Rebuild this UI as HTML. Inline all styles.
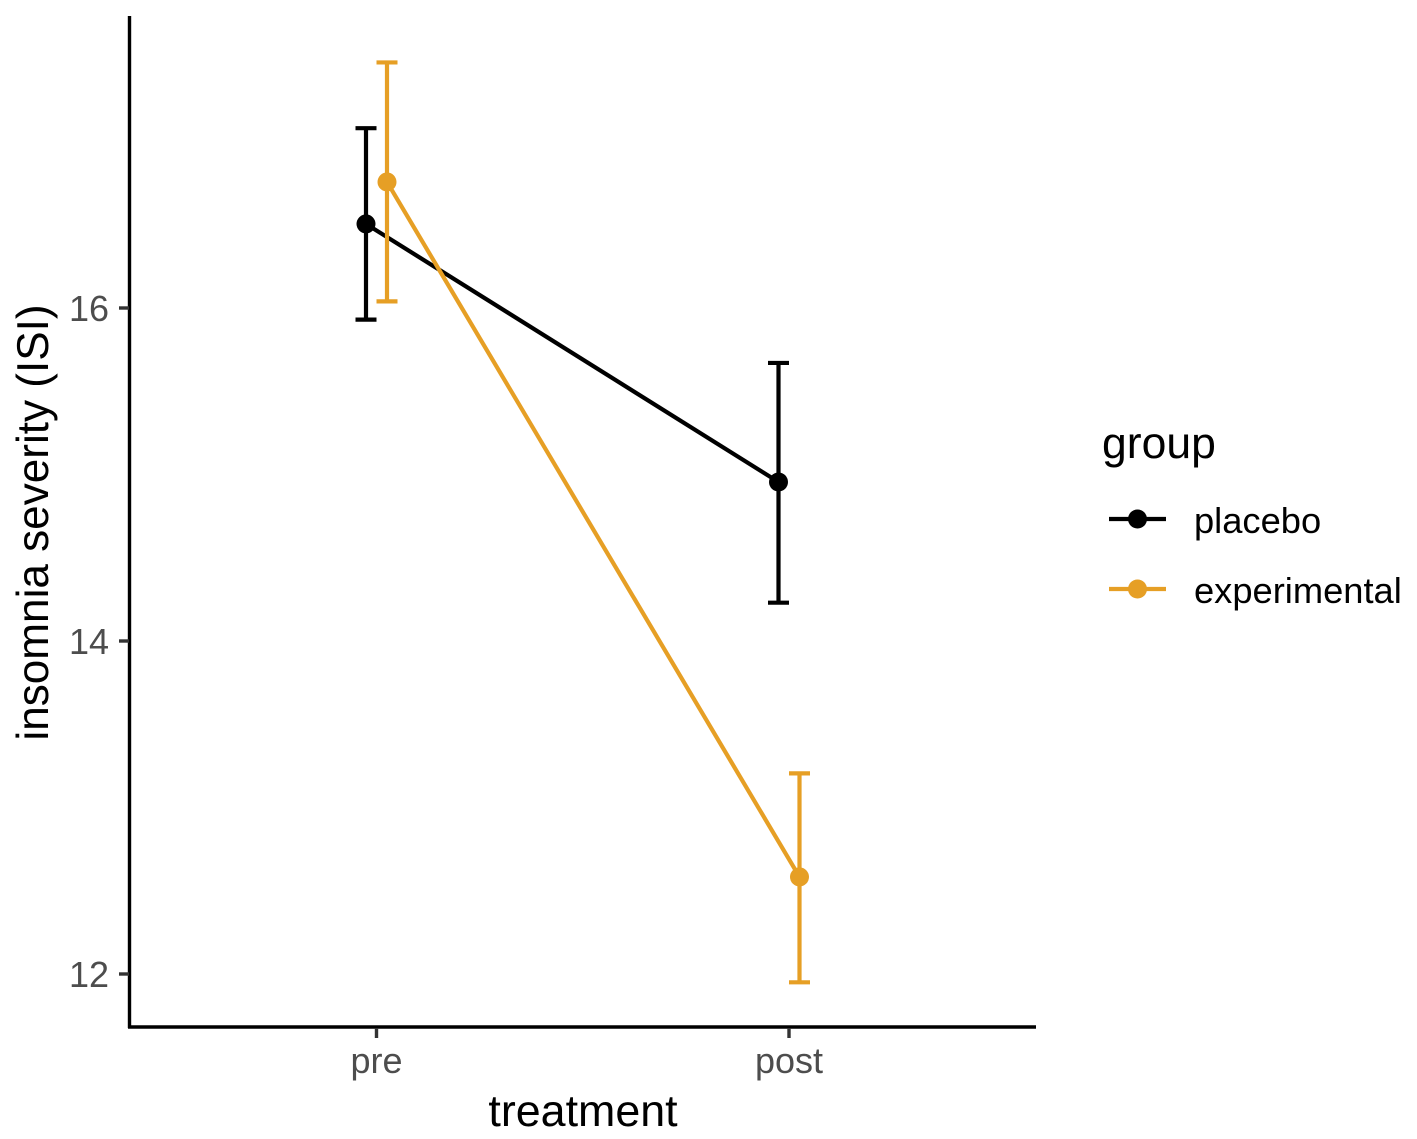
<!DOCTYPE html>
<html lang="en">
<head>
<meta charset="utf-8">
<title>Insomnia severity by treatment and group</title>
<style>
html,body{margin:0;padding:0;background:#fff;width:1417px;height:1139px;overflow:hidden}
svg{display:block;font-family:"Liberation Sans",Arial,sans-serif}
</style>
</head>
<body>
<svg id="chart" xmlns="http://www.w3.org/2000/svg" width="1417" height="1139" viewBox="0 0 1417 1139">
<rect width="1417" height="1139" fill="#fff"/>
<g id="marks"></g>
<g id="axes">
<line x1="129.5" y1="16" x2="129.5" y2="1028" stroke="#000" stroke-width="3.4"/>
<line x1="128" y1="1027" x2="1036" y2="1027" stroke="#000" stroke-width="3.4"/>
</g>
<text x="583" y="1126" font-size="44.8" text-anchor="middle" fill="#000">treatment</text>
<text transform="translate(48,522.5) rotate(-90)" font-size="44.1" text-anchor="middle" fill="#000">insomnia severity (ISI)</text>
<g>
<text x="1102" y="458" font-size="44.5" fill="#000">group</text>
<g>
<line x1="1109" y1="519" x2="1166" y2="519" stroke="#000" stroke-width="4.2"/>
<circle cx="1137.5" cy="519" r="9.5" fill="#000"/>
<text x="1194" y="533" font-size="36.3" fill="#000">placebo</text>
</g>
<g>
<line x1="1109" y1="589" x2="1166" y2="589" stroke="#E69F25" stroke-width="4.2"/>
<circle cx="1137.5" cy="589" r="9.5" fill="#E69F25"/>
<text x="1194" y="603" font-size="36.3" fill="#000">experimental</text>
</g>
</g>
</svg>
<script>
const categories = ['pre', 'post'];
const yTickLabels = [12, 14, 16];
const placeboMean = [16.505, 14.955];
const placeboUpper = [17.08, 15.67];
const placeboLower = [15.93, 14.23];
const experimentalMean = [16.757, 12.583];
const experimentalUpper = [17.475, 13.205];
const experimentalLower = [16.04, 11.95];

const NS = 'http://www.w3.org/2000/svg';
const marks = document.getElementById('marks');
const axes = document.getElementById('axes');
const BLACK = '#000000';
const ORANGE = '#E69F25';

function yScale(v) { return 974 - (v - 12) * 166.5; }
function xScale(i) { return 376.5 + i * 412.5; }

function make(tag, attrs, parent) {
  const el = document.createElementNS(NS, tag);
  for (const k in attrs) el.setAttribute(k, attrs[k]);
  parent.appendChild(el);
  return el;
}

function drawSeries(key, color, dodge, mean, upper, lower) {
  const g = make('g', {}, marks);
  
  
  const px = mean.map((_, i) => xScale(i) + dodge);
  const line = make('polyline', {
    points: mean.map((v, i) => px[i] + ',' + yScale(v)).join(' '),
    fill: 'none', stroke: color, 'stroke-width': 4.2
  }, g);
  
  
  mean.forEach((v, i) => {
    const yU = yScale(upper[i]);
    const yL = yScale(lower[i]);
    const bar = make('path', {
      d: 'M' + (px[i] - 10.5) + ' ' + yU + 'H' + (px[i] + 10.5) +
         'M' + px[i] + ' ' + yU + 'V' + yL +
         'M' + (px[i] - 10.5) + ' ' + yL + 'H' + (px[i] + 10.5),
      fill: 'none', stroke: color, 'stroke-width': 4.2
    }, g);
    
    
    const pt = make('circle', { cx: px[i], cy: yScale(v), r: 9.5, fill: color }, g);
    
    
  });
}

drawSeries('placebo', BLACK, -10.5, placeboMean, placeboUpper, placeboLower);
drawSeries('experimental', ORANGE, 10.5, experimentalMean, experimentalUpper, experimentalLower);

yTickLabels.forEach((t) => {
  const tick = make('line', { x1: 119, x2: 129, y1: yScale(t), y2: yScale(t), stroke: '#333', 'stroke-width': 3.4 }, axes);
  
  
  const label = make('text', { x: 109, y: yScale(t) + 13, 'font-size': 36, 'text-anchor': 'end', fill: '#4D4D4D' }, axes);
  label.textContent = String(t);
  
  
});

categories.forEach((c, i) => {
  const tick = make('line', { x1: xScale(i), x2: xScale(i), y1: 1028, y2: 1038, stroke: '#333', 'stroke-width': 3.4 }, axes);
  
  
  const label = make('text', { x: xScale(i), y: 1073, 'font-size': 36, 'text-anchor': 'middle', fill: '#4D4D4D' }, axes);
  label.textContent = c;
  
  
});
</script>
</body>
</html>
